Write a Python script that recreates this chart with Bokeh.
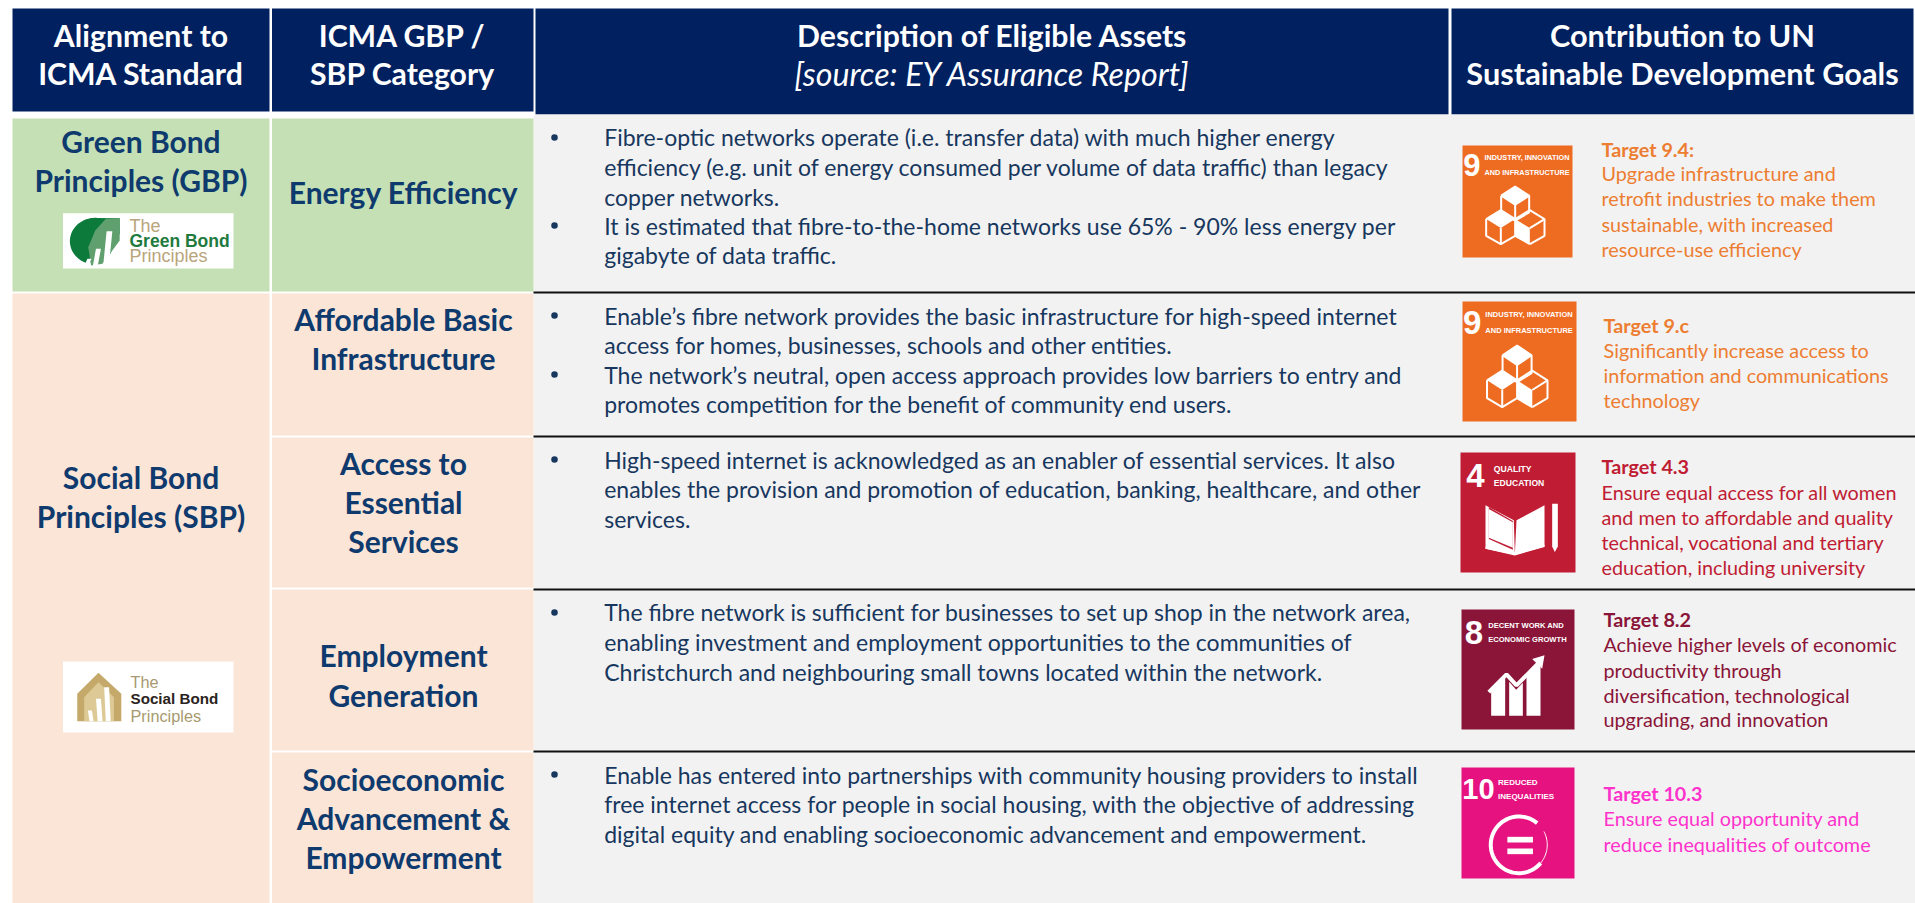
import numpy as np
from bokeh.plotting import figure
from bokeh.models import Range1d
from bokeh.core.properties import value
from bokeh.embed import file_html
from bokeh.resources import INLINE

# ---------- content ----------
header_col1 = ["Alignment to", "ICMA Standard"]
header_col2 = ["ICMA GBP /", "SBP Category"]
header_col3 = ["Description of Eligible Assets"]
header_col3_note = ["[source: EY Assurance Report]"]
header_col4 = ["Contribution to UN", "Sustainable Development Goals"]

green_principles = ["Green Bond", "Principles (GBP)"]
social_principles = ["Social Bond", "Principles (SBP)"]

cat_energy = ["Energy Efficiency"]
cat_afford = ["Affordable Basic", "Infrastructure"]
cat_access = ["Access to", "Essential", "Services"]
cat_employ = ["Employment", "Generation"]
cat_socio = ["Socioeconomic", "Advancement &", "Empowerment"]

desc_energy = ["Fibre-optic networks operate (i.e. transfer data) with much higher energy",
               "efficiency (e.g. unit of energy consumed per volume of data traffic) than legacy",
               "copper networks.",
               "It is estimated that fibre-to-the-home networks use 65% - 90% less energy per",
               "gigabyte of data traffic."]
desc_afford = ["Enable\u2019s fibre network provides the basic infrastructure for high-speed internet",
               "access for homes, businesses, schools and other entities.",
               "The network\u2019s neutral, open access approach provides low barriers to entry and",
               "promotes competition for the benefit of community end users."]
desc_access = ["High-speed internet is acknowledged as an enabler of essential services.  It also",
               "enables the provision and promotion of education, banking, healthcare, and other",
               "services."]
desc_employ = ["The fibre network is sufficient for businesses to set up shop in the network area,",
               "enabling investment and employment opportunities to the communities of",
               "Christchurch and neighbouring small towns located within the network."]
desc_socio = ["Enable has entered into partnerships with community housing providers to install",
              "free internet access for people in social housing, with the objective of addressing",
              "digital equity and enabling socioeconomic advancement and empowerment."]

t94 = ["Target 9.4:", "Upgrade infrastructure and", "retrofit industries to make them",
       "sustainable, with increased", "resource-use efficiency"]
t9c = ["Target 9.c", "Significantly increase access to", "information and communications", "technology"]
t43 = ["Target 4.3", "Ensure equal access for all women", "and men to affordable and quality",
       "technical, vocational and tertiary", "education, including university"]
t82 = ["Target 8.2", "Achieve higher levels of economic", "productivity through",
       "diversification, technological", "upgrading, and innovation"]
t103 = ["Target 10.3", "Ensure equal opportunity and", "reduce inequalities of outcome"]

# ---------- styles ----------
NAVY = "#002060"; GREEN = "#C5E0B4"; PEACH = "#FBE5D6"; GREY = "#F2F2F2"
BLUE = "#0E3A6E"; BODY = "#17375E"
ORANGE = "#ED7D31"; ORANGE_I = "#EE6C22"
RED = "#C01C33"; WINE = "#8A1538"; PINK = "#FF33CC"; PINK_I = "#E5127F"
FONT = "Lato"; S_H = 30.2; S_B = 30; S_D = 23; S_T = 19.8

W, H = 1915, 903
p = figure(width=W, height=H, x_range=Range1d(0, W), y_range=Range1d(H, 0),
           output_backend="svg", toolbar_location=None, min_border=0,
           outline_line_color=None, background_fill_color="white", border_fill_color="white")
p.axis.visible = False
p.grid.visible = False


def rect(x0, x1, y0, y1, c):
    p.quad(left=x0, right=x1, top=y0, bottom=y1, fill_color=c, line_color=None)


def block(lines, x, ys, size, color, bold=False, italic=False, align="center", font=FONT):
    style = "bold italic" if bold and italic else "bold" if bold else "italic" if italic else "normal"
    dy = -0.07 * size if font == FONT else 0
    p.text(x=[x] * len(lines), y=[v + dy for v in ys], text=lines, text_font=value(font),
           text_font_size=f"{size}px", text_font_style=style, text_color=color,
           text_align=align, text_baseline="middle")


# backgrounds
rect(12, 269, 8, 111, NAVY)
rect(271.5, 533, 8, 111, NAVY)
rect(535, 1448, 8, 114, NAVY)
rect(1451, 1913, 8, 114, NAVY)
rect(533, 1915, 114, 903, GREY)
rect(12, 269, 118, 291, GREEN)
rect(271.5, 533, 118, 291, GREEN)
rect(12, 269, 293, 903, PEACH)
rect(271.5, 533, 293, 435, PEACH)
rect(271.5, 533, 437, 587, PEACH)
rect(271.5, 533, 589, 750, PEACH)
rect(271.5, 533, 752, 903, PEACH)
for yy in (292, 436, 589, 751):
    p.line(x=[533, 1915], y=[yy, yy], line_color="#111111", line_width=2)

# headers
block(header_col1, 140.5, [37, 75], S_H, "white", bold=True)
block(header_col2, 402, [37, 75], S_H, "white", bold=True)
block(header_col3, 992, [37], S_H, "white", bold=True)
block(header_col3_note, 992, [75], 32.2, "white", italic=True)
block(header_col4, 1682, [37, 75], 30.7, "white", bold=True)

# left labels
block(green_principles, 140.5, [143, 182], S_B, BLUE, bold=True)
block(social_principles, 140.5, [479, 518], S_B, BLUE, bold=True)
block(cat_energy, 403, [194], S_B, BLUE, bold=True)
block(cat_afford, 403, [321, 360], S_B, BLUE, bold=True)
block(cat_access, 403, [465, 504, 543], S_B, BLUE, bold=True)
block(cat_employ, 403, [657, 697], S_B, BLUE, bold=True)
block(cat_socio, 403, [781, 820, 859], S_B, BLUE, bold=True)

# descriptions
XD = 603.7; XB = 554
for lines, ys, bul in [
    (desc_energy, [138, 168, 198, 227, 256], [137, 225]),
    (desc_afford, [317, 346, 376, 405], [315, 374]),
    (desc_access, [461, 490, 520], [459]),
    (desc_employ, [613, 643, 673], [612]),
    (desc_socio, [776, 805, 835], [774]),
]:
    block(lines, XD, ys, S_D, BODY, align="left")
    p.scatter(x=[XB] * len(bul), y=bul, size=6.5, marker="circle", fill_color=BODY, line_color=None)

# targets
for lines, x, ys, c in [
    (t94, 1601, [150, 174, 199, 224.5, 250], ORANGE),
    (t9c, 1603, [326, 350.5, 375.5, 400.5], ORANGE),
    (t43, 1601, [467, 492.5, 517.5, 543, 568], RED),
    (t82, 1603, [620, 644.5, 670.5, 695.5, 720], WINE),
    (t103, 1603, [794, 819, 845], PINK),
]:
    block(lines[:1], x, ys[:1], S_T, c, bold=True, align="left")
    block(lines[1:], x, ys[1:], S_T, c, align="left")


# ---------- SDG icons ----------
ICON_FONT = "Liberation Sans"


def icon_frame(x0, x1, y0, y1, c, zx0, zx1, zy0, zy1, num, nzx, nzy, nsize, labels, lzx, lzy, lsize):
    rect(x0, x1, y0, y1, c)
    fx = lambda v: x0 + (np.asarray(v, float) - zx0) / (zx1 - zx0) * (x1 - x0)
    fy = lambda v: y0 + (np.asarray(v, float) - zy0) / (zy1 - zy0) * (y1 - y0)
    block([num], float(fx(nzx)), [float(fy(nzy))], nsize, "white", bold=True, font=ICON_FONT)
    block(labels, float(fx(lzx)), [float(fy(v)) for v in lzy], lsize, "white", bold=True, align="left", font=ICON_FONT)

    def poly(xs, ys, fill="white"):
        p.patch(x=fx(xs), y=fy(ys), fill_color=fill, line_color=None)

    def line(xs, ys, w=1.5):
        p.line(x=fx(xs), y=fy(ys), line_color="white", line_width=w)
    return poly, line


def cubes(poly, line):
    # top cube
    poly([180, 222, 180, 138], [138, 165, 192, 165])
    line([138, 180, 222, 222, 180, 138, 138], [165, 138, 165, 215, 240, 215, 165], 2)
    line([138, 180, 222], [165, 192, 165], 2); line([180, 180], [192, 240], 2)
    # left cube
    poly([137, 180, 137, 93], [208, 235, 262, 235])
    line([93, 137, 180, 180, 137, 93, 93], [235, 208, 235, 285, 310, 285, 235], 2)
    line([137, 137], [262, 310], 2)
    # right cube
    poly([180, 224, 224, 180], [235, 262, 310, 285])
    line([180, 224, 268, 268, 224], [235, 208, 235, 285, 310], 2)
    line([224, 268], [262, 235], 2); line([180, 224], [285, 310], 2)


poly, line = icon_frame(1462, 1572, 145, 257, ORANGE_I, 22, 352, 15, 350, "9", 50, 74, 31,
                        ["INDUSTRY, INNOVATION", "AND INFRASTRUCTURE"], 88, [52, 95], 7.3)
cubes(poly, line)
poly, line = icon_frame(1462, 1576, 301, 421, ORANGE_I, 22, 352, 15, 350, "9", 50, 74, 33,
                        ["INDUSTRY, INNOVATION", "AND INFRASTRUCTURE"], 88, [52, 95], 7.5)
cubes(poly, line)

# quality education
poly, line = icon_frame(1460, 1575, 452, 572, RED, 90, 435, 37, 396, "4", 135, 105, 33,
                        ["QUALITY", "EDUCATION"], 190, [87, 127], 8.6)
poly([165, 250, 253, 342, 342, 258, 253, 165], [195, 240, 343, 318, 195, 240, 343, 325])
poly([165, 165, 253, 342, 342, 253], [320, 325, 345, 320, 312, 335])
poly([175, 247, 247, 175], [200, 242, 328, 296], RED)
poly([175, 247, 247, 175], [206, 246, 322, 292])
poly([365, 382, 382, 373, 365], [190, 190, 318, 335, 318])

# decent work
poly, line = icon_frame(1461, 1574, 609, 729, WINE, 93, 432, 508, 867, "8", 130, 578, 33,
                        ["DECENT WORK AND", "ECONOMIC GROWTH"], 173, [556, 598], 7.6)
poly([182, 182, 224, 224], [826, 752, 712, 826])
poly([236, 236, 257, 277, 277], [826, 724, 748, 727, 826])
poly([288, 288, 330, 330], [826, 703, 668, 826])
line([175, 228, 258, 328], [755, 702, 735, 664], 4)
poly([305, 342, 335], [656, 645, 685])

# reduced inequalities
poly, line = icon_frame(1461, 1574, 767, 878, PINK_I, 17, 357, 20, 353, "10", 68, 85, 29,
                        ["REDUCED", "INEQUALITIES"], 127, [65, 108], 8)
th = np.radians(np.linspace(-50, -320, 80))
line(190 + 85 * np.cos(th), 252 + 85 * np.sin(th), 4)
th2 = np.radians(np.linspace(40, -28, 30))
line(190 + 85 * np.cos(th2), 252 + 85 * np.sin(th2), 1)
poly([155, 232, 232, 155], [228, 228, 245, 245])
poly([155, 232, 232, 155], [263, 263, 280, 280])

# ---------- logos ----------
LGX = lambda v: np.asarray(v, float) / 2.45
LGY = lambda v: np.asarray(v, float) / 3
rect(62.5, 233, 212.7, 268, "white")
lt = np.radians(np.linspace(-85, -250, 50))
p.patch(x=LGX(np.r_[232 + 62 * np.cos(lt), 265, 292, 292]),
        y=LGY(np.r_[722 + 70 * np.sin(lt), 770, 700, 653]), fill_color="#0B7A3B", line_color=None)
p.patch(x=LGX([292, 258, 232, 215, 222, 250, 292]),
        y=LGY([653, 655, 690, 740, 795, 790, 720]), fill_color="#5FA06E", line_color=None)
for sx0, sx1, sy0, sy1 in [(205, 215, 775, 797), (226, 238, 745, 797), (252, 266, 692, 790)]:
    p.patch(x=LGX([sx0, sx1, sx1 + 8, sx0 + 8]), y=LGY([sy1, sy1, sy0, sy0]), fill_color="white", line_color=None)
LX = 129
block(["The"], LX, [225], 18, "#B9A57C", align="left", font="Liberation Sans")
block(["Green Bond"], LX, [240], 17.5, "#1F7A3E", bold=True, align="left", font="Liberation Sans")
block(["Principles"], LX, [255.5], 18, "#B9A57C", align="left", font="Liberation Sans")

rect(62.5, 233, 661, 732, "white")
p.patch(x=LGX([188, 188, 240, 296, 296]), y=630 + LGY([272, 190, 127, 190, 272]), fill_color="#C4A96A", line_color=None)
p.patch(x=LGX([205, 205, 240, 278, 278]), y=630 + LGY([272, 200, 155, 200, 272]), fill_color="#DCC995", line_color=None)
for sx0, sx1, sy0 in [(218, 228, 240), (238, 250, 205), (258, 270, 170)]:
    p.patch(x=LGX([sx0, sx1, sx1 - 4, sx0 - 4]), y=630 + LGY([272, 272, sy0, sy0]), fill_color="white", line_color=None)
LX2 = 130
block(["The"], LX2, [681], 16.3, "#A89A70", align="left", font="Liberation Sans")
block(["Social Bond"], LX2, [698], 15.2, "#2B2320", bold=True, align="left", font="Liberation Sans")
block(["Principles"], LX2, [715], 16.3, "#A89A70", align="left", font="Liberation Sans")

open("out.html", "w").write(file_html(p, INLINE))
